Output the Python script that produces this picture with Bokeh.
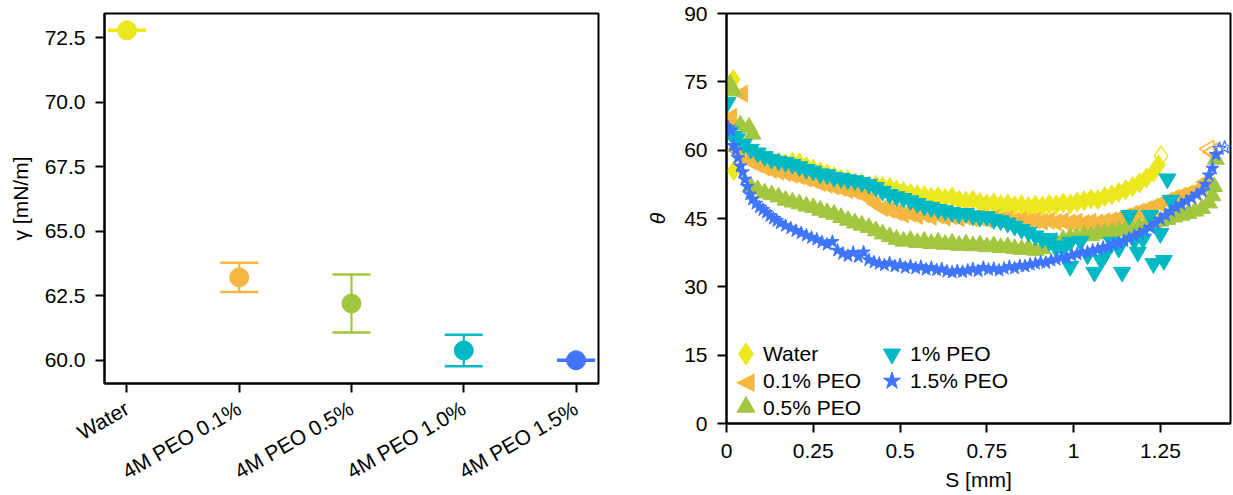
import math
from bokeh.plotting import figure
from bokeh.models import (Range1d, FixedTicker, PrintfTickFormatter, NumeralTickFormatter,
                          ColumnDataSource, Legend, LegendItem, Label)
from bokeh.layouts import row
from bokeh.embed import file_html
from bokeh.resources import INLINE

FONT = "Liberation Sans"

# ---------------- left panel data ----------------
categories = ["Water", "4M PEO 0.1%", "4M PEO 0.5%", "4M PEO 1.0%", "4M PEO 1.5%"]
gamma_mean = [72.78, 63.21, 62.20, 60.38, 60.00]
gamma_err = [0.02, 0.57, 1.12, 0.61, 0.02]
colors = ["#EDE81E", "#F5B73F", "#A3C63F", "#00B9C4", "#3F75FF"]

# ---------------- right panel data ----------------
water_s = [0.02, 0.021, 0.05, 0.07, 0.09, 0.11, 0.13, 0.15, 0.17, 0.19, 0.21, 0.23, 0.25, 0.27,
           0.29, 0.31, 0.33, 0.35, 0.37, 0.39, 0.41, 0.43, 0.45, 0.47, 0.49, 0.51, 0.53, 0.55,
           0.57, 0.59, 0.61, 0.63, 0.65, 0.67, 0.69, 0.71, 0.73, 0.75, 0.77, 0.79, 0.81, 0.83,
           0.85, 0.87, 0.89, 0.91, 0.93, 0.95, 0.97, 0.99, 1.01, 1.03, 1.05, 1.07, 1.09, 1.11,
           1.13, 1.15, 1.17, 1.19, 1.21, 1.23, 1.245]
water_theta = [75.5, 55.5, 59.0, 58.6, 58.2, 58.0, 57.6, 57.4, 57.0, 57.3, 57.2, 56.4, 55.8, 55.3,
               54.8, 54.2, 53.6, 53.4, 52.9, 52.6, 52.2, 52.3, 52.0, 51.8, 51.2, 50.9, 50.5, 50.2,
               50.0, 49.6, 49.8, 49.4, 49.7, 49.0, 48.8, 49.0, 48.5, 48.2, 48.4, 48.0, 48.2, 47.8,
               48.0, 47.6, 47.9, 47.7, 48.1, 48.0, 48.4, 48.2, 48.6, 48.9, 49.3, 49.1, 49.8, 50.2,
               50.7, 51.3, 52.0, 52.8, 53.9, 55.2, 56.8]
water_end_s = [1.252]
water_end_theta = [58.7]

peo01_s = [0.005, 0.015, 0.046, 0.03, 0.05, 0.07, 0.09, 0.11, 0.13, 0.15, 0.17, 0.19, 0.21, 0.23,
           0.25, 0.27, 0.29, 0.31, 0.33, 0.35, 0.37, 0.39, 0.41, 0.43, 0.45, 0.47, 0.49, 0.51,
           0.53, 0.55, 0.57, 0.59, 0.61, 0.63, 0.65, 0.67, 0.69, 0.71, 0.73, 0.75, 0.77, 0.79,
           0.81, 0.83, 0.85, 0.87, 0.89, 0.91, 0.93, 0.95, 0.97, 0.99, 1.01, 1.03, 1.05, 1.07,
           1.09, 1.11, 1.13, 1.15, 1.17, 1.19, 1.21, 1.23, 1.25, 1.27, 1.29, 1.31, 1.33, 1.35,
           1.37, 1.38]
peo01_theta = [66.2, 67.3, 72.4, 60.0, 58.6, 57.6, 56.9, 56.2, 55.7, 55.3, 55.0, 54.6, 54.3, 53.8,
               53.4, 52.8, 52.4, 52.0, 51.7, 51.2, 51.0, 50.5, 49.5, 48.3, 47.3, 46.9, 46.4, 45.9,
               46.1, 45.6, 45.9, 45.4, 45.7, 45.2, 45.5, 45.1, 45.4, 45.0, 45.2, 44.8, 45.0, 44.7,
               44.9, 44.5, 44.7, 44.4, 44.6, 44.3, 44.5, 44.2, 44.4, 44.1, 44.3, 44.0, 44.3, 44.1,
               44.4, 44.6, 45.0, 45.5, 46.0, 46.5, 47.0, 47.6, 48.2, 48.9, 49.5, 50.0, 50.5, 51.0,
               51.8, 53.0]
peo01_end_s = [1.39, 1.40]
peo01_end_theta = [60.3, 59.6]

peo05_s = [0.01, 0.02, 0.04, 0.065, 0.075, 0.07, 0.09, 0.11, 0.13, 0.15, 0.17, 0.19, 0.21, 0.23,
           0.25, 0.27, 0.29, 0.31, 0.33, 0.35, 0.37, 0.39, 0.41, 0.43, 0.45, 0.47, 0.49, 0.51,
           0.53, 0.55, 0.57, 0.59, 0.61, 0.63, 0.65, 0.67, 0.69, 0.71, 0.73, 0.75, 0.77, 0.79,
           0.81, 0.83, 0.85, 0.87, 0.89, 0.91, 0.93, 0.95, 0.97, 0.99, 1.01, 1.03, 1.05, 1.07,
           1.09, 1.11, 1.13, 1.15, 1.17, 1.19, 1.21, 1.23, 1.25, 1.27, 1.29, 1.31, 1.33, 1.35,
           1.37, 1.39, 1.40, 1.405, 1.41]
peo05_theta = [74.5, 73.0, 65.5, 65.0, 63.5, 52.0, 51.3, 50.6, 50.2, 49.7, 49.0, 48.6, 48.2, 47.7,
               47.4, 46.8, 46.3, 45.9, 45.2, 44.6, 44.0, 43.5, 43.0, 42.3, 41.6, 41.0, 40.4, 40.0,
               40.2, 39.7, 40.0, 39.5, 39.8, 39.3, 39.6, 39.1, 39.4, 39.0, 39.2, 38.8, 39.0, 38.6,
               38.8, 38.4, 38.2, 38.5, 38.0, 38.4, 39.2, 39.8, 40.4, 40.8, 41.0, 41.3, 41.2, 41.6,
               41.8, 42.0, 42.3, 42.5, 42.9, 43.2, 43.6, 44.0, 44.4, 44.8, 45.3, 45.7, 46.1, 46.6,
               47.2, 48.4, 50.0, 52.0, 58.0]

peo10_s = [0.003, 0.01, 0.02, 0.03, 0.05, 0.07, 0.09, 0.11, 0.13, 0.15, 0.17, 0.19, 0.21, 0.23,
           0.25, 0.27, 0.29, 0.31, 0.33, 0.35, 0.37, 0.39, 0.41, 0.43, 0.45, 0.47, 0.49, 0.51,
           0.53, 0.55, 0.57, 0.59, 0.61, 0.63, 0.65, 0.67, 0.69, 0.71, 0.73, 0.75, 0.77, 0.79,
           0.81, 0.83, 0.85, 0.87, 0.89, 0.91, 0.93, 0.95, 0.97, 0.93, 0.95, 0.99, 0.99, 1.02,
           1.04, 1.06, 1.08, 1.09, 1.11, 1.13, 1.14, 1.16, 1.175, 1.185, 1.20, 1.22, 1.23, 1.25,
           1.26, 1.27, 1.28]
peo10_theta = [70.5, 64.0, 63.0, 62.5, 61.3, 60.2, 59.4, 58.6, 58.0, 57.6, 57.3, 56.9, 56.4, 55.8,
               55.4, 54.8, 54.6, 54.0, 53.8, 53.5, 53.3, 52.9, 52.5, 51.8, 51.0, 50.3, 49.8, 49.4,
               48.9, 48.3, 47.7, 47.4, 47.0, 46.7, 46.3, 46.0, 46.1, 45.6, 45.3, 45.4, 44.8, 44.5,
               44.0, 43.3, 42.6, 42.0, 41.2, 40.5, 40.0, 39.0, 38.4, 40.6, 38.5, 34.5, 39.8, 40.0,
               37.0, 33.2, 35.8, 37.0, 39.8, 38.5, 33.2, 45.7, 40.2, 37.6, 40.5, 45.7, 35.1, 41.7,
               35.8, 53.7, 49.0]

peo15_s = [0.005, 0.012, 0.02, 0.027, 0.033, 0.04, 0.047, 0.053, 0.06, 0.067, 0.075, 0.085, 0.095,
           0.105, 0.115, 0.125, 0.135, 0.145, 0.155, 0.17, 0.185, 0.2, 0.215, 0.23, 0.245, 0.26,
           0.275, 0.29, 0.305, 0.32, 0.335, 0.35, 0.365, 0.38, 0.395, 0.41, 0.425, 0.44, 0.455,
           0.47, 0.485, 0.5, 0.515, 0.53, 0.545, 0.56, 0.575, 0.59, 0.605, 0.62, 0.635, 0.65,
           0.665, 0.68, 0.695, 0.71, 0.725, 0.74, 0.755, 0.77, 0.785, 0.8, 0.815, 0.83, 0.845,
           0.86, 0.875, 0.89, 0.905, 0.92, 0.935, 0.95, 0.965, 0.98, 0.995, 1.01, 1.025, 1.04,
           1.055, 1.07, 1.085, 1.1, 1.115, 1.13, 1.145, 1.16, 1.175, 1.19, 1.205, 1.22, 1.235,
           1.25, 1.265, 1.28, 1.295, 1.31, 1.325, 1.34, 1.355, 1.37, 1.38, 1.39, 1.40, 1.41]
peo15_theta = [65.0, 64.3, 61.0, 60.0, 58.3, 56.5, 55.2, 53.6, 52.0, 50.3, 49.2, 48.3, 47.5,
               46.9, 46.3, 45.6, 45.0, 44.5, 44.0, 43.4, 42.9, 42.3, 41.8, 41.3, 40.8, 40.4,
               39.8, 39.3, 39.9, 38.0, 37.3, 36.8, 37.5, 36.6, 37.6, 35.9, 35.4, 35.1, 34.8,
               35.2, 34.5, 34.8, 34.2, 34.6, 34.1, 34.4, 33.8, 34.2, 33.7, 33.9, 33.4, 33.2,
               33.5, 33.3, 33.6, 33.9, 33.5, 34.2, 33.8, 34.0, 33.6, 34.0, 34.4, 34.1, 34.6,
               34.5, 34.9, 35.1, 35.4, 35.3, 35.8, 36.0, 36.4, 36.3, 36.9, 37.2, 37.5, 37.6,
               38.0, 38.2, 38.6, 38.8, 39.3, 39.6, 40.1, 40.6, 41.2, 41.7, 42.3, 43.0, 43.9,
               44.8, 45.7, 46.6, 47.4, 48.1, 48.8, 49.5, 50.3, 51.0, 52.5, 54.5, 56.0, 59.0]
peo15_end_s = [1.42, 1.435]
peo15_end_theta = [60.3, 60.6]

series_labels = ["Water", "0.1% PEO", "0.5% PEO", "1% PEO", "1.5% PEO"]
x_ticks = [0, 0.25, 0.5, 0.75, 1, 1.25]
y_ticks = [0, 15, 30, 45, 60, 75, 90]
gamma_ticks = [60, 62.5, 65, 67.5, 70, 72.5]


def style_axes(p):
    for ax in list(p.xaxis) + list(p.yaxis):
        ax.axis_line_width = 2
        ax.axis_line_color = "black"
        ax.major_tick_line_width = 2
        ax.major_tick_line_color = "black"
        ax.major_tick_out = 9
        ax.major_tick_in = 0
        ax.minor_tick_line_color = None
        ax.major_label_text_font = FONT
        ax.major_label_text_font_size = "21px"
        ax.major_label_text_color = "black"
        ax.axis_label_text_font = FONT
        ax.axis_label_text_font_size = "21px"
        ax.axis_label_text_color = "black"
        ax.axis_label_text_font_style = "normal"
        ax.major_label_standoff = 10
    p.xgrid.grid_line_color = None
    p.ygrid.grid_line_color = None
    p.outline_line_color = "black"
    p.outline_line_width = 2
    p.outline_line_alpha = 1
    if "frame_align" in p.properties():
        p.frame_align = False


# ---------------- left figure ----------------
p1 = figure(width=636, height=495, x_range=Range1d(-0.2, 4.2), y_range=Range1d(59.1, 73.43),
            output_backend="svg", toolbar_location=None,
            min_border_left=104, min_border_right=38, min_border_top=13, min_border_bottom=111)
style_axes(p1)
idx = list(range(len(categories)))
src = ColumnDataSource(dict(
    x=idx, y=gamma_mean,
    upper=[m + e for m, e in zip(gamma_mean, gamma_err)],
    lower=[m - e for m, e in zip(gamma_mean, gamma_err)],
    color=colors))
p1.segment(x0="x", y0="lower", x1="x", y1="upper", line_color="color", line_width=2.2, source=src)
p1.scatter("x", "upper", marker="dash", size=38, line_color="color", line_width=2.5, source=src)
p1.scatter("x", "lower", marker="dash", size=38, line_color="color", line_width=2.5, source=src)
p1.scatter("x", "y", marker="circle", size=19, fill_color="color", line_color="color", source=src)
p1.xaxis.ticker = FixedTicker(ticks=idx)
p1.xaxis.major_label_overrides = {i: c for i, c in zip(idx, categories)}
p1.xaxis.major_label_orientation = math.pi / 6
p1.xaxis.major_label_standoff = 14
p1.yaxis.ticker = FixedTicker(ticks=gamma_ticks)
p1.yaxis.formatter = PrintfTickFormatter(format="%.1f")
p1.yaxis.axis_label = "γ [mN/m]"
p1.yaxis.axis_label_standoff = 10

# ---------------- right figure ----------------
p2 = figure(width=597, height=495, x_range=Range1d(0, 1.452), y_range=Range1d(0, 90),
            output_backend="svg", toolbar_location=None,
            min_border_left=90, min_border_right=3, min_border_top=13, min_border_bottom=72)
style_axes(p2)
p2.xaxis.ticker = FixedTicker(ticks=x_ticks)
p2.xaxis.formatter = NumeralTickFormatter(format="0.[00]")
p2.xaxis.major_label_standoff = 11
p2.xaxis.axis_label = "S [mm]"
p2.xaxis.axis_label_standoff = 7
p2.yaxis.ticker = FixedTicker(ticks=y_ticks)
p2.yaxis.axis_label = "θ"
p2.yaxis.axis_label_text_font_style = "italic"
p2.yaxis.axis_label_standoff = 12

r_w = p2.scatter(water_s, water_theta, marker="diamond", size=20, fill_color=colors[0],
                 line_color=colors[0])
p2.scatter(water_end_s, water_end_theta, marker="diamond", size=20, fill_color=None,
           line_color=colors[0], line_width=1.5)
r_o = p2.scatter(peo01_s, peo01_theta, marker="triangle", angle=math.pi / 2, size=17,
                 fill_color=colors[1], line_color=colors[1])
p2.scatter(peo01_end_s, peo01_end_theta, marker="triangle", angle=math.pi / 2, size=17,
           fill_color=None, line_color=colors[1], line_width=1.5)
r_g = p2.scatter(peo05_s, peo05_theta, marker="triangle", size=17, fill_color=colors[2],
                 line_color=colors[2])
r_t = p2.scatter(peo10_s, peo10_theta, marker="inverted_triangle", size=17, fill_color=colors[3],
                 line_color=colors[3])
r_b = p2.scatter(peo15_s, peo15_theta, marker="star", size=14, fill_color=colors[4],
                 line_color=colors[4])
p2.scatter(peo15_end_s, peo15_end_theta, marker="star", size=14, fill_color=None,
           line_color=colors[4], line_width=1.2)
# invisible stand-in renderer for the text-only legend entries
r_key = p2.scatter([], [], marker="circle", size=1, fill_alpha=0, line_alpha=0)


def text_legend(labels, loc):
    return Legend(items=[LegendItem(label=lb, renderers=[r_key]) for lb in labels],
                  location=loc, glyph_width=1, glyph_height=27, spacing=0,
                  padding=0, margin=0, label_standoff=0, label_text_font=FONT,
                  label_text_font_size="21px", label_text_color="black",
                  background_fill_alpha=0, border_line_color=None, label_height=20)


def glyph_legend(rend, g, loc):
    return Legend(items=[LegendItem(label=" ", renderers=[rend])],
                  location=loc, glyph_width=g, glyph_height=g, spacing=0,
                  padding=0, margin=0, label_standoff=0, label_width=0,
                  label_text_alpha=0, label_text_font_size="2px",
                  background_fill_alpha=0, border_line_color=None)


p2.add_layout(text_legend(series_labels[:3], (36, 2)))
p2.add_layout(text_legend(series_labels[3:], (183, 29)))
p2.add_layout(glyph_legend(r_w, 55, (-8.5, 42.2)))
p2.add_layout(glyph_legend(r_g, 45, (-3.5, -6.2)))
p2.add_layout(glyph_legend(r_t, 43, (144.2, 48.2)))
p2.add_layout(glyph_legend(r_b, 45, (143.2, 20.5)))
# Bokeh legends never rotate markers, so the left-pointing key is drawn as a label
p2.add_layout(Label(x=19, y=43, x_units="screen", y_units="screen", text="◀",
                    text_font="DejaVu Sans", text_font_size="24px", text_color=colors[1],
                    text_align="center", text_baseline="middle"))

layout = row(p1, p2)
open("out.html", "w").write(file_html(layout, INLINE))
